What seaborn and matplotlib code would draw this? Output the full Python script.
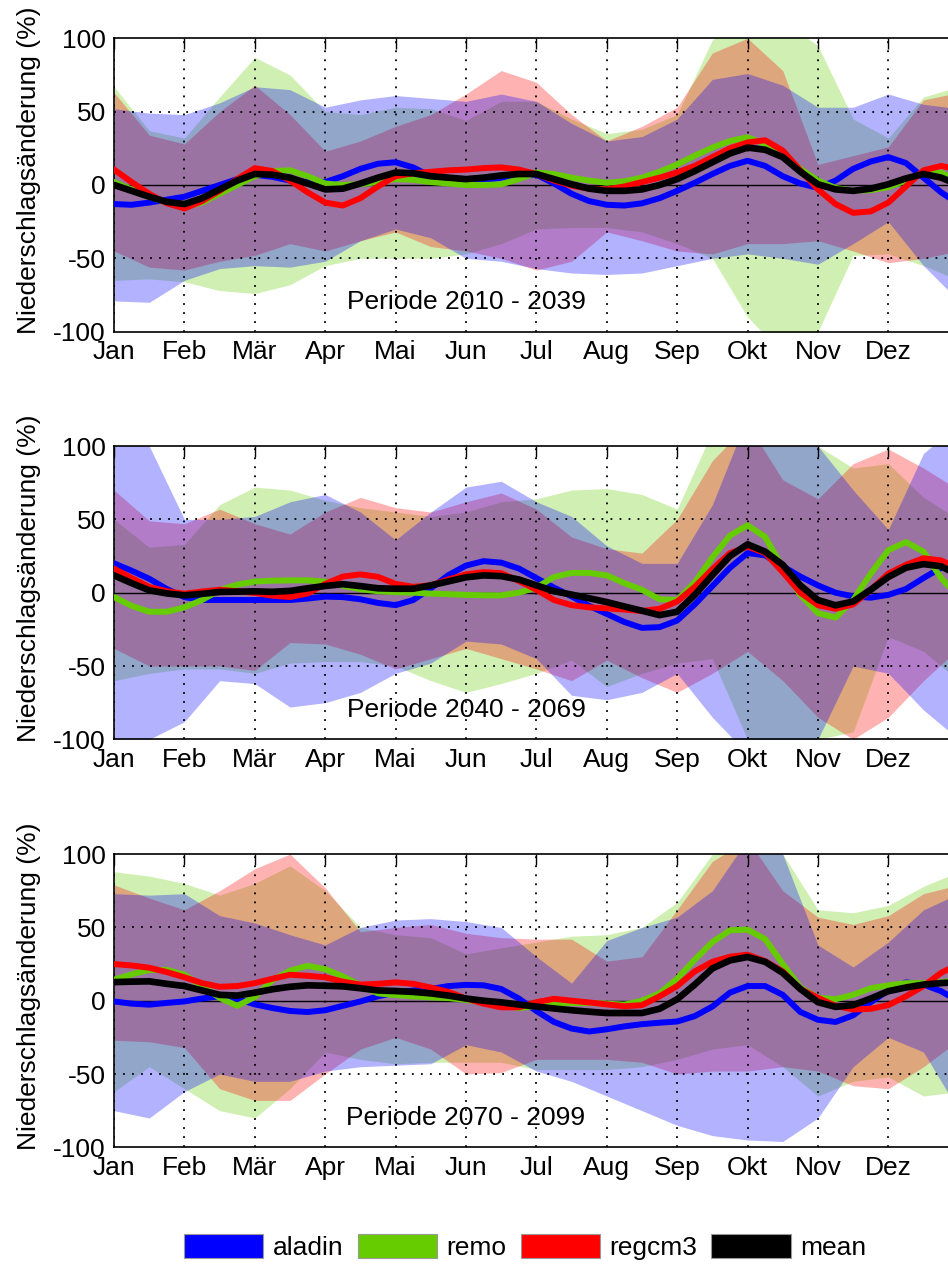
import numpy as np
import pandas as pd
import matplotlib
matplotlib.use("Agg")
import matplotlib.pyplot as plt
from matplotlib.patches import Patch
import seaborn as sns

# ---------------- data ----------------
month_labels = ["Jan", "Feb", "Mär", "Apr", "Mai", "Jun", "Jul", "Aug", "Sep", "Okt", "Nov", "Dez"]
# sampling positions in months (Jan = 0 ... next Jan = 12)
months_q = [0, 0.25, 0.5, 0.75, 1, 1.25, 1.5, 1.75, 2, 2.25, 2.5, 2.75, 3, 3.25, 3.5, 3.75,
            4, 4.25, 4.5, 4.75, 5, 5.25, 5.5, 5.75, 6, 6.25, 6.5, 6.75, 7, 7.25, 7.5, 7.75,
            8, 8.25, 8.5, 8.75, 9, 9.25, 9.5, 9.75, 10, 10.25, 10.5, 10.75, 11, 11.25, 11.5, 11.75, 12]
months_h = [0, 0.5, 1, 1.5, 2, 2.5, 3, 3.5, 4, 4.5, 5, 5.5, 6, 6.5, 7, 7.5, 8, 8.5, 9, 9.5, 10, 10.5, 11, 11.5, 12]
models = ["aladin", "remo", "regcm3", "mean"]
periods = ["Periode 2010 - 2039", "Periode 2040 - 2069", "Periode 2070 - 2099"]

# ---- Periode 2010 - 2039 : model lines (quarter-month readings)
aladin_1 = [-13, -13.5, -12, -10, -8, -4, 0, 4, 7, 5.5, 3, 2, 2, 6, 11, 14.5, 15.5, 12, 6, 3, 2, 3, 5, 7, 7,
            1, -6, -11, -13.5, -14, -12.5, -9, -4, 1.5, 7.5, 13, 16.5, 13, 6, 1, -2, 3, 11, 16, 19, 15, 5, -5, -13]
remo_1 = [2, -3, -8, -12, -15, -12, -6, 0, 6, 9.5, 10, 6, 1, 0, 0.5, 2, 4, 3.5, 2, 1, 0, 0, 0.5, 4, 8.5,
          7.5, 5, 3, 1.5, 2.5, 5, 9, 14, 20, 25.5, 30, 32.5, 28, 20, 11, 3, -2, -4, -3.5, -1.5, 3, 8.5, 8.5, 2]
regcm3_1 = [10.5, 2, -6, -12.5, -16, -11, -4, 4, 11.5, 9.5, 3, -5, -12, -14, -9, -1, 6, 8, 9, 10, 10.5, 11.5, 12, 10.5, 7.5,
            3, -0.5, -2.5, -3, -1, 2, 5, 8.5, 13, 19, 25, 29, 30.5, 23.5, 10, -3, -13, -19, -18, -12, -1, 10, 13, 10.5]
mean_1 = [0, -4, -8, -11.5, -13, -9, -3, 3, 7.5, 7, 5, 1, -3, -2.5, 1, 5, 8.5, 8, 6, 5, 4, 5, 6.5, 7.5, 7.5,
          4, 0.5, -2.5, -4, -4, -3, 0, 4, 9.5, 15.5, 21.5, 25.5, 24, 19, 9, 0.5, -3, -4, -2.5, 0.5, 4.5, 7.5, 5, 0]
# ---- Periode 2010 - 2039 : ranges (half-month readings)
aladin_hi_1 = [52, 49, 48, 56, 67, 65, 53, 58, 61, 59, 57, 62, 57, 42, 30, 33, 45, 72, 76, 68, 53, 53, 62, 55, 52]
remo_hi_1 = [67, 37, 32, 60, 87, 75, 50, 48, 53, 52, 44, 57, 57, 45, 35, 38, 48, 99, 115, 112, 95, 45, 32, 60, 67]
regcm3_hi_1 = [63, 34, 28, 50, 68, 48, 23, 30, 40, 48, 62, 78, 70, 48, 30, 40, 53, 90, 100, 78, 14, 20, 26, 58, 63]
aladin_lo_1 = [-79, -80, -65, -57, -55, -56, -52, -38, -30, -36, -50, -52, -57, -60, -61, -60, -55, -50, -47, -50, -54, -40, -25, -55, -79]
remo_lo_1 = [-65, -64, -66, -72, -74, -68, -55, -50, -50, -50, -47, -40, -30, -29, -29, -32, -40, -50, -90, -115, -100, -48, -47, -55, -65]
regcm3_lo_1 = [-45, -56, -58, -52, -48, -40, -45, -38, -32, -42, -45, -50, -58, -52, -32, -38, -45, -47, -40, -40, -38, -45, -53, -50, -45]

# ---- Periode 2040 - 2069 : model lines
aladin_2 = [20, 15, 9.5, 2.5, -3, -5, -5, -5, -5, -5, -5, -4, -2.7, -3, -4.5, -7, -8.5, -5, 3, 12, 18.5, 21.5, 20.5, 16.5, 10,
            3.5, -2.5, -9, -14.5, -20, -24, -23.5, -19, -8, 4.5, 17, 27, 25.5, 18, 11, 5, 0, -2.5, -3.4, -1.5, 2.5, 10, 17, 20]
remo_2 = [-3, -9, -13, -13, -10, -5, 1.8, 5.5, 7.6, 8.2, 8.4, 8.4, 7.5, 4.7, 2.4, 1, 0.4, 0, -0.6, -1, -1.5, -1.8, -1.8, 0, 3.5,
          10.7, 13.5, 13.5, 11.8, 6.5, 2, -4.5, -5, 7, 24, 39, 46, 38, 17, -1.5, -14, -17, -5, 13, 29, 34.5, 28, 10, -3]
regcm3_2 = [16.4, 10, 3.9, 1, -0.7, 0.8, 2, 1, -0.2, -2, -3, -0.5, 6, 11, 12.5, 10.8, 6, 4, 5, 9, 12.5, 14, 13.3, 8, 2,
            -5, -8.5, -10, -10.7, -11.5, -12.5, -11, -6, 4, 16, 27, 31.5, 27, 14, 0, -8.5, -11, -8, 2, 13, 19, 23.5, 22, 16.4]
mean_2 = [11.8, 6.5, 1.6, -0.5, -1.8, -0.8, 0.5, 0.7, 0.9, 0.6, 1.2, 3, 4.6, 5.8, 4.5, 3, 2.7, 2.7, 5, 7.7, 10.5, 11.8, 11.3, 9, 5,
          1, -1.3, -3.8, -6.4, -9.4, -12.3, -15.3, -13, -1.5, 12, 25, 33, 28, 19, 5, -5, -8.6, -6, 2, 10.7, 17, 19.5, 18, 11.8]
# ---- Periode 2040 - 2069 : ranges
aladin_hi_2 = [115, 100, 50, 50, 52, 62, 67, 55, 36, 55, 72, 76, 62, 52, 32, 20, 20, 60, 120, 110, 100, 70, 43, 95, 115]
remo_hi_2 = [50, 31, 33, 60, 72, 70, 63, 58, 55, 52, 55, 62, 64, 70, 71, 67, 57, 110, 115, 110, 100, 85, 88, 65, 50]
regcm3_hi_2 = [70, 49, 47, 57, 47, 40, 55, 65, 58, 55, 62, 68, 57, 38, 30, 27, 50, 90, 115, 77, 64, 88, 98, 85, 70]
aladin_lo_2 = [-100, -100, -88, -60, -62, -78, -75, -68, -55, -48, -33, -35, -45, -70, -73, -68, -55, -85, -110, -105, -100, -50, -55, -80, -100]
remo_lo_2 = [-60, -55, -52, -52, -55, -48, -47, -47, -50, -60, -68, -62, -55, -46, -64, -55, -48, -45, -100, -105, -100, -95, -30, -40, -60]
regcm3_lo_2 = [-38, -50, -50, -50, -53, -34, -35, -42, -52, -45, -38, -45, -52, -60, -46, -58, -68, -55, -40, -60, -85, -100, -85, -60, -38]

# ---- Periode 2070 - 2099 : model lines
aladin_3 = [-0.5, -2, -2.7, -1.5, -0.5, 1.5, 3, 1.2, -2.5, -5, -7, -7.7, -6.5, -3.5, -0.5, 3, 5.5, 7, 8, 10, 10.8, 10.5, 8, 1.5, -7,
            -14.5, -19, -21, -19.5, -17.5, -16, -15, -14.2, -10.5, -4, 5.5, 10, 10, 4, -7.7, -13, -14.5, -10, -1, 7, 12.5, 11, 6.5, -0.5]
remo_3 = [14.3, 18, 21, 21, 17.7, 10, 2, -3.5, 2.5, 14, 20.5, 23.8, 21.5, 16.6, 10.5, 5, 3.8, 3, 2.3, 1.8, 0.5, -1.2, -2.8, -5, -3.5,
          -1.8, -1.6, -1.6, -2, -2.7, 0, 5, 15, 28, 40, 48, 48.5, 42, 25, 9, 2, 1, 4, 8.5, 10.5, 12, 12, 12.5, 14.3]
regcm3_3 = [25, 24, 22.5, 19.5, 16, 12, 9.5, 10, 12, 15, 17.7, 17, 16, 13, 11, 11.5, 12.5, 11.5, 9, 6, 1.5, -2, -4.5, -4.5, -1,
            1.3, 0, -1.2, -2.5, -3.8, -3, 3, 10, 20, 26.5, 30, 31.4, 27, 20, 8, 2, -3.5, -6, -5.5, -3, 3, 10, 19, 25]
mean_3 = [12.7, 13, 13.2, 11.5, 10, 7, 4, 3.5, 5.5, 7.8, 9.5, 10.5, 10.2, 9.8, 8.5, 7, 6.6, 6, 5, 3.5, 1.5, 0, -1.1, -2.6, -4,
          -5.3, -6.5, -7.5, -8.4, -8.4, -8.4, -5.5, 1, 11, 22, 27.5, 29.8, 26.5, 19, 8, -1, -4.2, -3, 1.5, 6.5, 9, 11, 12, 12.7]
# ---- Periode 2070 - 2099 : ranges
aladin_hi_3 = [73, 72, 73, 58, 53, 45, 38, 50, 55, 56, 54, 50, 30, 12, 41, 50, 57, 75, 110, 100, 38, 23, 40, 62, 73]
remo_hi_3 = [88, 85, 80, 72, 80, 92, 75, 50, 45, 43, 32, 36, 40, 44, 45, 50, 67, 100, 110, 100, 62, 60, 65, 78, 88]
regcm3_hi_3 = [79, 70, 62, 75, 90, 100, 77, 47, 50, 52, 46, 43, 42, 42, 27, 30, 62, 95, 110, 75, 57, 52, 58, 73, 79]
aladin_lo_3 = [-75, -80, -62, -50, -55, -55, -48, -45, -44, -43, -30, -35, -48, -55, -65, -75, -85, -92, -95, -96, -80, -45, -25, -35, -75]
remo_lo_3 = [-62, -45, -60, -75, -80, -60, -35, -40, -43, -42, -42, -42, -47, -47, -47, -45, -40, -33, -30, -45, -65, -55, -52, -65, -62]
regcm3_lo_3 = [-27, -28, -32, -60, -68, -68, -50, -33, -25, -33, -50, -49, -40, -40, -40, -42, -50, -48, -48, -45, -48, -58, -60, -45, -27]

lines = [
    {"aladin": aladin_1, "remo": remo_1, "regcm3": regcm3_1, "mean": mean_1},
    {"aladin": aladin_2, "remo": remo_2, "regcm3": regcm3_2, "mean": mean_2},
    {"aladin": aladin_3, "remo": remo_3, "regcm3": regcm3_3, "mean": mean_3},
]
bands = [
    {"remo": (remo_lo_1, remo_hi_1), "regcm3": (regcm3_lo_1, regcm3_hi_1), "aladin": (aladin_lo_1, aladin_hi_1)},
    {"remo": (remo_lo_2, remo_hi_2), "regcm3": (regcm3_lo_2, regcm3_hi_2), "aladin": (aladin_lo_2, aladin_hi_2)},
    {"remo": (remo_lo_3, remo_hi_3), "regcm3": (regcm3_lo_3, regcm3_hi_3), "aladin": (aladin_lo_3, aladin_hi_3)},
]

colors = {"aladin": "#0000ff", "remo": "#66cc00", "regcm3": "#ff0000", "mean": "#000000"}

# ---------------- style ----------------
sns.set_theme(style="white")
plt.rcParams["font.family"] = ["Liberation Sans", "DejaVu Sans"]
plt.rcParams["text.color"] = "black"
plt.rcParams["axes.labelcolor"] = "black"
plt.rcParams["xtick.color"] = "black"
plt.rcParams["ytick.color"] = "black"
FS = 19

fig = plt.figure(figsize=(9.48, 12.64), dpi=100)
positions = [
    [0.1203, 0.7376, 0.891, 0.2321],
    [0.1203, 0.4151, 0.891, 0.2320],
    [0.1203, 0.0923, 0.891, 0.2320],
]

for p in range(3):
    ax = fig.add_axes(positions[p])
    ax.set_facecolor("white")
    # uncertainty ranges (remo, regcm3, aladin -> overlaps mix to purple)
    for m in ["remo", "regcm3", "aladin"]:
        lo, hi = bands[p][m]
        ax.fill_between(months_h, lo, hi, color=colors[m], alpha=0.3, linewidth=0, zorder=1)
    ax.axhline(0, color="black", linewidth=1.0, zorder=2.7)
    df = pd.DataFrame({
        "month": months_q * 4,
        "value": sum([list(lines[p][m]) for m in models], []),
        "model": sum([[m] * len(months_q) for m in models], []),
    })
    for m in models:
        sns.lineplot(data=df[df["model"] == m], x="month", y="value", color=colors[m],
                     linewidth=4.8 if m == "mean" else 4.3, ax=ax, legend=False,
                     zorder=3, solid_capstyle="round", solid_joinstyle="round")
    ax.set_xlim(0, 12)
    ax.set_ylim(-100, 100)
    ax.set_xticks(range(12))
    ax.set_xticklabels(month_labels)
    ax.set_yticks([-100, -50, 0, 50, 100])
    ax.set_yticklabels(["-100", "-50", "0", "50", "100"])
    ax.tick_params(axis="both", direction="in", length=8, width=1.0, color="black",
                   labelsize=FS, labelcolor="black", top=True, right=False)
    ax.tick_params(axis="x", pad=6)
    ax.tick_params(axis="y", pad=6)
    ax.set_axisbelow(False)
    ax.grid(True, color="black", linestyle=(0, (1, 4)), linewidth=1.3)
    ax.yaxis.grid(False)
    for yv in (-50, 50):
        ax.axhline(yv, color="black", linestyle=(0, (1, 4)), linewidth=1.3, zorder=2.6)
    for s in ax.spines.values():
        s.set_color("black")
        s.set_linewidth(1.2)
    ax.set_xlabel("")
    ax.set_ylabel("Niederschlagsänderung (%)", fontsize=FS, color="black")
    ax.yaxis.set_label_coords(-0.087, 0.55)
    ax.text(5.0, -80, periods[p], fontsize=FS, ha="center", va="center", color="black", zorder=5)

handles = [Patch(facecolor=colors[m], edgecolor="#999999", linewidth=0.8, label=m) for m in models]
leg = fig.legend(handles=handles, loc="center", bbox_to_anchor=(525 / 948, 1 - 1247 / 1264), ncol=4,
                 frameon=False, fontsize=FS, handlelength=3.0, handleheight=1.0,
                 handletextpad=0.35, columnspacing=0.55, borderaxespad=0)
for t in leg.get_texts():
    t.set_color("black")

fig.savefig("out.png", dpi=100)
